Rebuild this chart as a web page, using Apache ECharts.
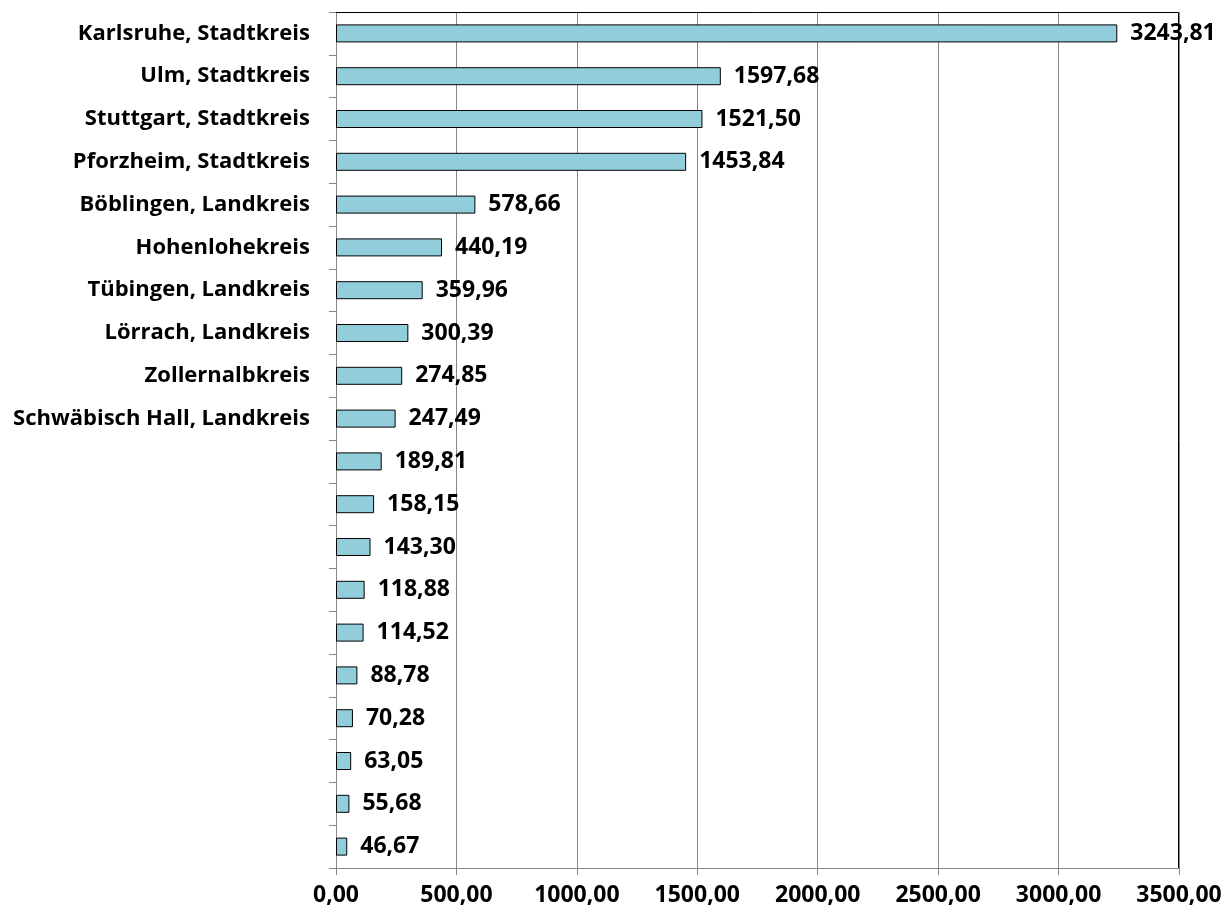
<!DOCTYPE html>
<html>
<head>
<meta charset="utf-8">
<script src="https://cdn.jsdelivr.net/npm/echarts@6/dist/echarts.min.js"></script>
<style>
  html, body { margin: 0; padding: 0; background: #fff; }
  #chart { width: 1227px; height: 917px; }
</style>
</head>
<body>
<div id="chart"></div>
<script>
// Kategorien (nur die ersten 10 beschriftet)
const categories = [
  'Karlsruhe, Stadtkreis', 'Ulm, Stadtkreis', 'Stuttgart, Stadtkreis', 'Pforzheim, Stadtkreis',
  'Böblingen, Landkreis', 'Hohenlohekreis', 'Tübingen, Landkreis', 'Lörrach, Landkreis',
  'Zollernalbkreis', 'Schwäbisch Hall, Landkreis',
  '', '', '', '', '', '', '', '', '', ''
]
const values = [
  3243.81, 1597.68, 1521.50, 1453.84, 578.66, 440.19, 359.96, 300.39, 274.85, 247.49,
  189.81, 158.15, 143.30, 118.88, 114.52, 88.78, 70.28, 63.05, 55.68, 46.67
]
const xTicks = [0, 500, 1000, 1500, 2000, 2500, 3000, 3500]

const fmt = v => v.toFixed(2).replace('.', ',')
const font = '"Open Sans", sans-serif'

const chart = echarts.init(document.getElementById('chart'))

chart.setOption({
  animation: false,
  grid: { left: 336, right: 48, top: 12, bottom: 49, containLabel: false },
  xAxis: {
    type: 'value',
    min: xTicks[0],
    max: xTicks[xTicks.length - 1],
    interval: 500,
    position: 'bottom',
    axisLine: { show: true, lineStyle: { color: '#868686', width: 1 } },
    axisTick: { show: true, length: 7, lineStyle: { color: '#868686' } },
    axisLabel: {
      formatter: v => fmt(v),
      color: '#000',
      fontFamily: font,
      fontWeight: 'bold',
      fontSize: 23,
      margin: 16
    },
    splitLine: { show: true, lineStyle: { color: '#868686', width: 1 } }
  },
  yAxis: {
    type: 'category',
    data: categories,
    inverse: true,
    axisLine: { show: true, lineStyle: { color: '#868686', width: 1 } },
    axisTick: { show: true, length: 7, alignWithLabel: false, lineStyle: { color: '#868686' } },
    axisLabel: {
      interval: 0,
      color: '#000',
      fontFamily: font,
      fontWeight: 'bold',
      fontSize: 22,
      margin: 26
    }
  },
  series: [{
    type: 'bar',
    data: values,
    barWidth: 18,
    itemStyle: { color: '#92CDDC', borderColor: '#000', borderWidth: 1 },
    label: {
      show: true,
      position: 'right',
      distance: 13,
      formatter: p => fmt(p.value),
      color: '#000',
      fontFamily: font,
      fontWeight: 'bold',
      fontSize: 23
    }
  }]
})

// Rahmen oben/rechts aus dem Gitter
const rect = chart.getModel().getComponent('grid').coordinateSystem.getRect()
chart.setOption({
  graphic: [{
    type: 'polyline',
    z: 10,
    shape: { points: [[rect.x, rect.y + 0.5], [rect.x + rect.width - 0.5, rect.y + 0.5], [rect.x + rect.width - 0.5, rect.y + rect.height]] },
    style: { stroke: '#000', lineWidth: 1, fill: null }
  }]
})
</script>
</body>
</html>
